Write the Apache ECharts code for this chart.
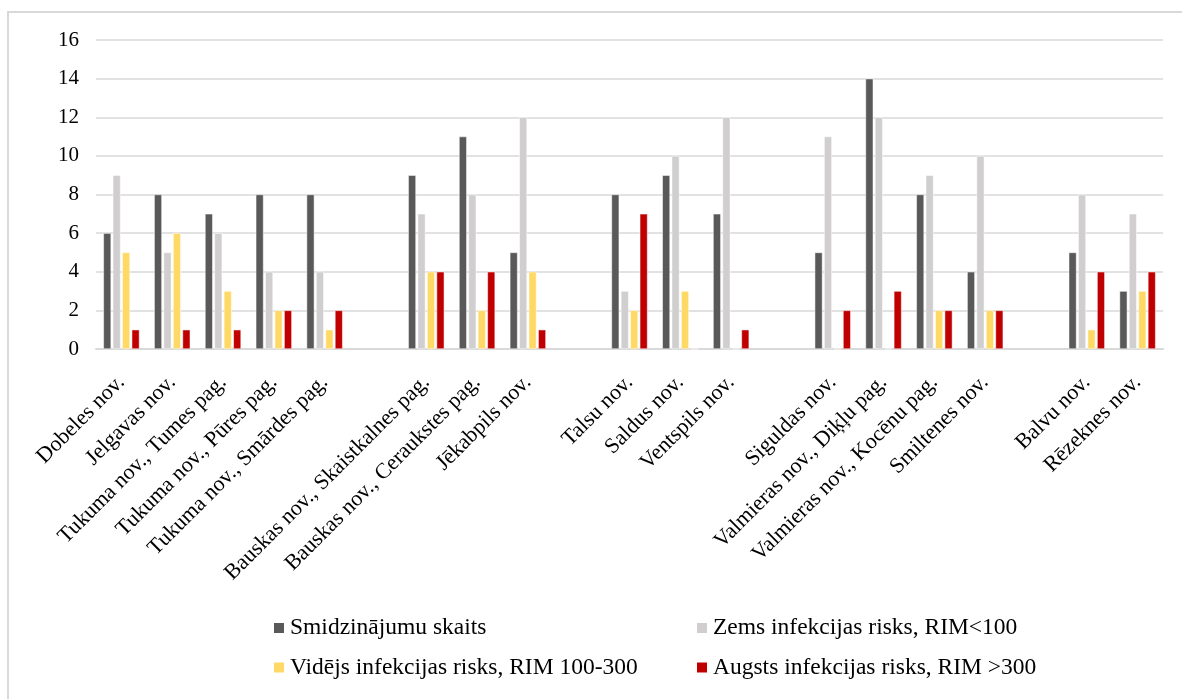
<!DOCTYPE html>
<html>
<head>
<meta charset="utf-8">
<script src="https://cdn.jsdelivr.net/npm/echarts@6/dist/echarts.min.js"></script>
<style>
html,body{margin:0;padding:0;background:#fff;}
#frame{position:absolute;left:7px;top:11px;width:1200px;height:720px;border-left:2px solid #d9d9d9;border-top:2px solid #d9d9d9;box-sizing:border-box;}
#chart{position:absolute;left:0;top:0;width:1182px;height:699px;}
</style>
</head>
<body>
<div id="frame"></div>
<div id="chart"></div>
<script>
const categories = [
  'Dobeles nov.', 'Jelgavas nov.', 'Tukuma nov., Tumes pag.', 'Tukuma nov., Pūres pag.', 'Tukuma nov., Smārdes pag.',
  '',
  'Bauskas nov., Skaistkalnes pag.', 'Bauskas nov., Ceraukstes pag.', 'Jēkabpils nov.',
  ' ',
  'Talsu nov.', 'Saldus nov.', 'Ventspils nov.',
  '  ',
  'Siguldas nov.', 'Valmieras nov., Diķļu pag.', 'Valmieras nov., Kocēnu pag.', 'Smiltenes nov.',
  '   ',
  'Balvu nov.', 'Rēzeknes nov.'
];
const seriesNames = [
  'Smidzinājumu skaits',
  'Zems infekcijas risks, RIM<100',
  'Vidējs infekcijas risks, RIM 100-300',
  'Augsts infekcijas risks, RIM >300'
];
const smidzinajumi = [6, 8, 7, 8, 8, null, 9, 11, 5, null, 8, 9, 7, null, 5, 14, 8, 4, null, 5, 3];
const zemsRisks    = [9, 5, 6, 4, 4, null, 7, 8, 12, null, 3, 10, 12, null, 11, 12, 9, 10, null, 8, 7];
const videjsRisks  = [5, 6, 3, 2, 1, null, 4, 2, 4, null, 2, 3, 0, null, 0, 0, 2, 2, null, 1, 3];
const augstsRisks  = [1, 1, 1, 2, 2, null, 4, 4, 1, null, 7, 0, 1, null, 2, 3, 2, 2, null, 4, 4];
const yTicks = [0, 2, 4, 6, 8, 10, 12, 14, 16];

const colors = ['#595959', '#d0cece', '#ffd966', '#c00000'];
const font = '"Liberation Serif", "Times New Roman", serif';
const values = [smidzinajumi, zemsRisks, videjsRisks, augstsRisks];

const legendText = {fontFamily: font, fontSize: 23.5, lineHeight: 23.5, color: '#000'};

const chart = echarts.init(document.getElementById('chart'), null, {renderer: 'canvas'});
chart.setOption({
  animation: false,
  textStyle: {fontFamily: font},
  grid: {left: 96, right: 19, top: 40, bottom: 350, containLabel: false},
  legend: [
    {
      data: [seriesNames[0], seriesNames[2]],
      orient: 'vertical', left: 267, top: 611, itemGap: 15.5,
      itemWidth: 12, itemHeight: 12, icon: 'rect',
      textStyle: legendText
    },
    {
      data: [seriesNames[1], seriesNames[3]],
      orient: 'vertical', left: 690, top: 611, itemGap: 15.5,
      itemWidth: 12, itemHeight: 12, icon: 'rect',
      textStyle: legendText
    }
  ],
  xAxis: {
    type: 'category',
    data: categories,
    axisLine: {lineStyle: {color: '#d9d9d9', width: 2}},
    axisTick: {show: false},
    axisLabel: {interval: 0, rotate: 45, fontFamily: font, fontSize: 22, color: '#000', margin: 30}
  },
  yAxis: {
    type: 'value',
    min: yTicks[0], max: yTicks[yTicks.length - 1], interval: 2,
    axisLine: {show: false},
    axisTick: {show: false},
    axisLabel: {fontFamily: font, fontSize: 21, color: '#000', margin: 17},
    splitLine: {lineStyle: {color: '#d9d9d9', width: 1.5}}
  },
  series: seriesNames.map((n, i) => ({
    name: n,
    type: 'bar',
    data: values[i],
    barGap: '22%',
    barCategoryGap: '29%',
    itemStyle: {color: colors[i], borderColor: '#ffffff', borderWidth: 0.5}
  }))
});
</script>
</body>
</html>
